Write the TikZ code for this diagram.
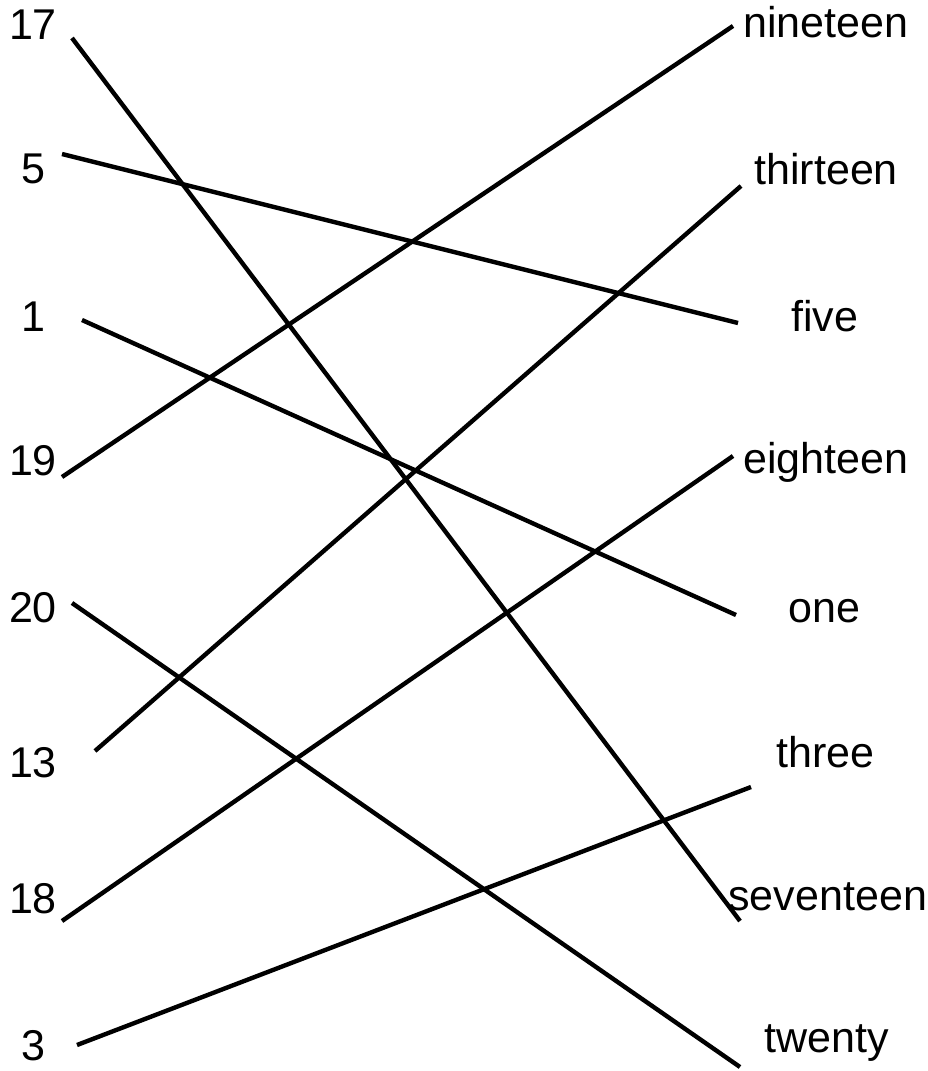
\documentclass[tikz,border=0pt]{standalone}
\usepackage{fontspec}
\setmainfont{Liberation Sans}
\usepackage{tikz}
\usetikzlibrary{positioning, calc}

\begin{document}
\begin{tikzpicture}[x=0.02cm, y=-0.02cm,
  num/.style={anchor=base, inner sep=0pt, font=\fontsize{24.5}{28}\selectfont},
  word/.style={anchor=base west, inner sep=0pt, font=\fontsize{24.5}{28}\selectfont},
  match/.style={line width=2.5pt, line cap=butt}]
\useasboundingbox (0,0) rectangle (928,1071);
% left column: numerals
\node[num] (n17) at (33,40)   {17};
\node[num] (n5)  at (33,184)  {5};
\node[num] (n1)  at (33,331)  {1};
\node[num] (n19) at (33,475)  {19};
\node[num] (n20) at (33,622)  {20};
\node[num] (n13) at (33,777)  {13};
\node[num] (n18) at (33,913)  {18};
\node[num] (n3)  at (33,1060) {3};
% right column: words
\node[word] (w19) at (743,38)   {nineteen};
\node[word] (w13) at (754,185)  {thirteen};
\node[word] (w5)  at (791,331)  {five};
\node[word] (w18) at (743,473)  {eighteen};
\node[word] (w1)  at (788,622)  {one};
\node[word] (w3)  at (776,767)  {three};
\node[word] (w17) at (728,910)  {seventeen};
\node[word] (w20) at (764,1052) {twenty};
% line ends
\coordinate (a17) at (72,38);   \coordinate (b17) at (740,921);
\coordinate (a5)  at (62,154);  \coordinate (b5)  at (738,323);
\coordinate (a1)  at (82,320);  \coordinate (b1)  at (736,615);
\coordinate (a19) at (62,477);  \coordinate (b19) at (733,26);
\coordinate (a20) at (72,603);  \coordinate (b20) at (740,1067);
\coordinate (a13) at (95,751);  \coordinate (b13) at (741,186);
\coordinate (a18) at (62,921);  \coordinate (b18) at (733,456);
\coordinate (a3)  at (77,1045); \coordinate (b3)  at (751,787);
% matching lines
\draw[match] (a17)--(b17);
\draw[match] (a5)--(b5);
\draw[match] (a1)--(b1);
\draw[match] (a19)--(b19);
\draw[match] (a20)--(b20);
\draw[match] (a13)--(b13);
\draw[match] (a18)--(b18);
\draw[match] (a3)--(b3);
\end{tikzpicture}
\end{document}
